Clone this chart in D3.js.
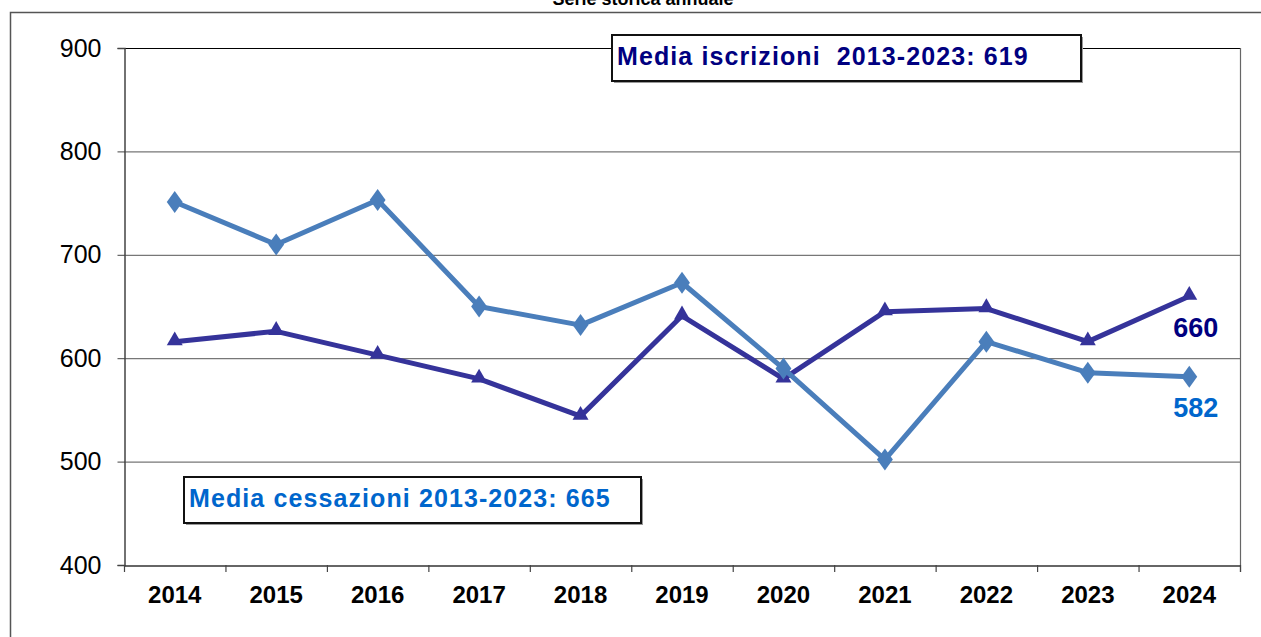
<!DOCTYPE html>
<html>
<head>
<meta charset="utf-8">
<script src="https://d3js.org/d3.v7.min.js"></script>
<style>
  body { margin: 0; background: #fff; }
  svg { display: block; font-family: "Liberation Sans", Arial, sans-serif; }
</style>
</head>
<body>
<script>
const years = ['2014', '2015', '2016', '2017', '2018', '2019', '2020', '2021', '2022', '2023', '2024'];
const iscrizioni = [616, 626, 603, 580, 544, 641, 580, 645, 648, 616, 660];
const cessazioni = [751, 710, 753, 650, 632, 673, 590, 502, 616, 586, 582];
const yTicks = [400, 500, 600, 700, 800, 900];
const title = 'Serie storica annuale';
const boxIscrizioni = 'Media iscrizioni  2013-2023: 619';
const boxCessazioni = 'Media cessazioni 2013-2023: 665';

const width = 1261, height = 637;
const plotLeft = 124, plotRight = 1240, plotTop = 48, plotBottom = 565;

const svg = d3.select('body').append('svg')
    .attr('width', width)
    .attr('height', height);

// outer frame of the chart
svg.append('rect')
    .attr('x', 10.5).attr('y', 12.5)
    .attr('width', 1262).attr('height', 640)
    .attr('fill', 'none').attr('stroke', '#555').attr('stroke-width', 1.5);

// title, cut at the top as in the source picture
svg.append('text')
    .attr('x', 643).attr('y', 5)
    .attr('text-anchor', 'middle')
    .attr('font-size', 18).attr('font-weight', 'bold')
    .text(title);

const x = d3.scaleBand().domain(years).range([plotLeft, plotRight]);
const y = d3.scaleLinear().domain([400, 900]).range([plotBottom, plotTop]);

// gridlines
svg.append('g')
    .selectAll('line')
    .data(yTicks.slice(1))
    .join('line')
    .attr('x1', plotLeft).attr('x2', plotRight)
    .attr('y1', d => y(d) + 0.5).attr('y2', d => y(d) + 0.5)
    .attr('stroke', d => d === 900 ? '#000' : '#777')
    .attr('stroke-width', 1.2);

// right border of plot
svg.append('line')
    .attr('x1', plotRight + 0.5).attr('x2', plotRight + 0.5)
    .attr('y1', plotTop).attr('y2', plotBottom + 7)
    .attr('stroke', '#666').attr('stroke-width', 1.2);

// y axis
const yAxis = d3.axisLeft(y).tickValues(yTicks).tickSize(7).tickPadding(16);
svg.append('g')
    .attr('transform', `translate(${plotLeft + 0.5},0)`)
    .call(yAxis)
    .call(g => g.select('.domain').attr('stroke', '#444').attr('stroke-width', 1.5))
    .call(g => g.selectAll('.tick line').attr('stroke', '#444'))
    .call(g => g.selectAll('.tick text')
        .attr('font-size', 25).attr('fill', '#000')
        .attr('font-family', '"Liberation Sans", Arial, sans-serif'));

// x axis: ticks between categories
const xAxis = d3.axisBottom(x).tickSize(0).tickPadding(20);
svg.append('g')
    .attr('transform', `translate(0,${plotBottom + 0.5})`)
    .call(xAxis)
    .call(g => g.select('.domain').attr('stroke', '#333').attr('stroke-width', 1.5))
    .call(g => g.selectAll('.tick text')
        .attr('font-size', 24).attr('font-weight', 'bold').attr('fill', '#000')
        .attr('font-family', '"Liberation Sans", Arial, sans-serif'));

svg.append('g')
    .selectAll('line')
    .data(years.concat(['end']))
    .join('line')
    .attr('x1', (d, i) => plotLeft + i * x.step() + 0.5)
    .attr('x2', (d, i) => plotLeft + i * x.step() + 0.5)
    .attr('y1', plotBottom).attr('y2', plotBottom + 7)
    .attr('stroke', '#444').attr('stroke-width', 1.2);

const cx = d => x(d) + x.bandwidth() / 2;

const line = d3.line()
    .x(d => cx(d.year))
    .y(d => y(d.value));

const cessData = years.map((year, i) => ({ year, value: cessazioni[i] }));
const iscData = years.map((year, i) => ({ year, value: iscrizioni[i] }));

// iscrizioni (dark, triangles) underneath
svg.append('path')
    .datum(iscData)
    .attr('d', line)
    .attr('fill', 'none')
    .attr('stroke', '#35339a')
    .attr('stroke-width', 5)
    .attr('stroke-linejoin', 'round');

svg.append('g')
    .selectAll('path')
    .data(iscData)
    .join('path')
    .attr('d', d3.symbol(d3.symbolTriangle, 110))
    .attr('transform', d => `translate(${cx(d.year)},${y(d.value) - 1})`)
    .attr('fill', '#35339a');

// cessazioni (light blue, diamonds) on top
svg.append('path')
    .datum(cessData)
    .attr('d', line)
    .attr('fill', 'none')
    .attr('stroke', '#4a7ebb')
    .attr('stroke-width', 5)
    .attr('stroke-linejoin', 'round');

svg.append('g')
    .selectAll('path')
    .data(cessData)
    .join('path')
    .attr('d', d3.symbol(d3.symbolDiamond, 140))
    .attr('transform', d => `translate(${cx(d.year)},${y(d.value)}) scale(1.25,1)`)
    .attr('fill', '#4a7ebb');

// end labels
const lastYear = years[years.length - 1];
svg.append('text')
    .attr('x', cx(lastYear) + 6.5).attr('y', y(iscrizioni[iscrizioni.length - 1]) + 41)
    .attr('text-anchor', 'middle')
    .attr('font-size', 27).attr('font-weight', 'bold').attr('fill', '#000080')
    .text(iscrizioni[iscrizioni.length - 1]);

svg.append('text')
    .attr('x', cx(lastYear) + 6.5).attr('y', y(cessazioni[cessazioni.length - 1]) + 40)
    .attr('text-anchor', 'middle')
    .attr('font-size', 27).attr('font-weight', 'bold').attr('fill', '#0066cc')
    .text(cessazioni[cessazioni.length - 1]);

// text boxes
function textBox(bx, by, bw, bh, label, colour) {
    svg.append('rect')
        .attr('x', bx + 2).attr('y', by + 2)
        .attr('width', bw).attr('height', bh)
        .attr('fill', '#999');
    svg.append('rect')
        .attr('x', bx).attr('y', by)
        .attr('width', bw).attr('height', bh)
        .attr('fill', '#fff').attr('stroke', '#111').attr('stroke-width', 2);
    svg.append('text')
        .attr('x', bx + 5).attr('y', by + 30)
        .attr('font-size', 25).attr('font-weight', 'bold')
        .attr('letter-spacing', 1.1)
        .attr('fill', colour)
        .style('white-space', 'pre')
        .text(label);
}

textBox(612, 35, 469, 46, boxIscrizioni, '#000080');
textBox(184, 477, 457, 46, boxCessazioni, '#0066cc');
</script>
</body>
</html>
